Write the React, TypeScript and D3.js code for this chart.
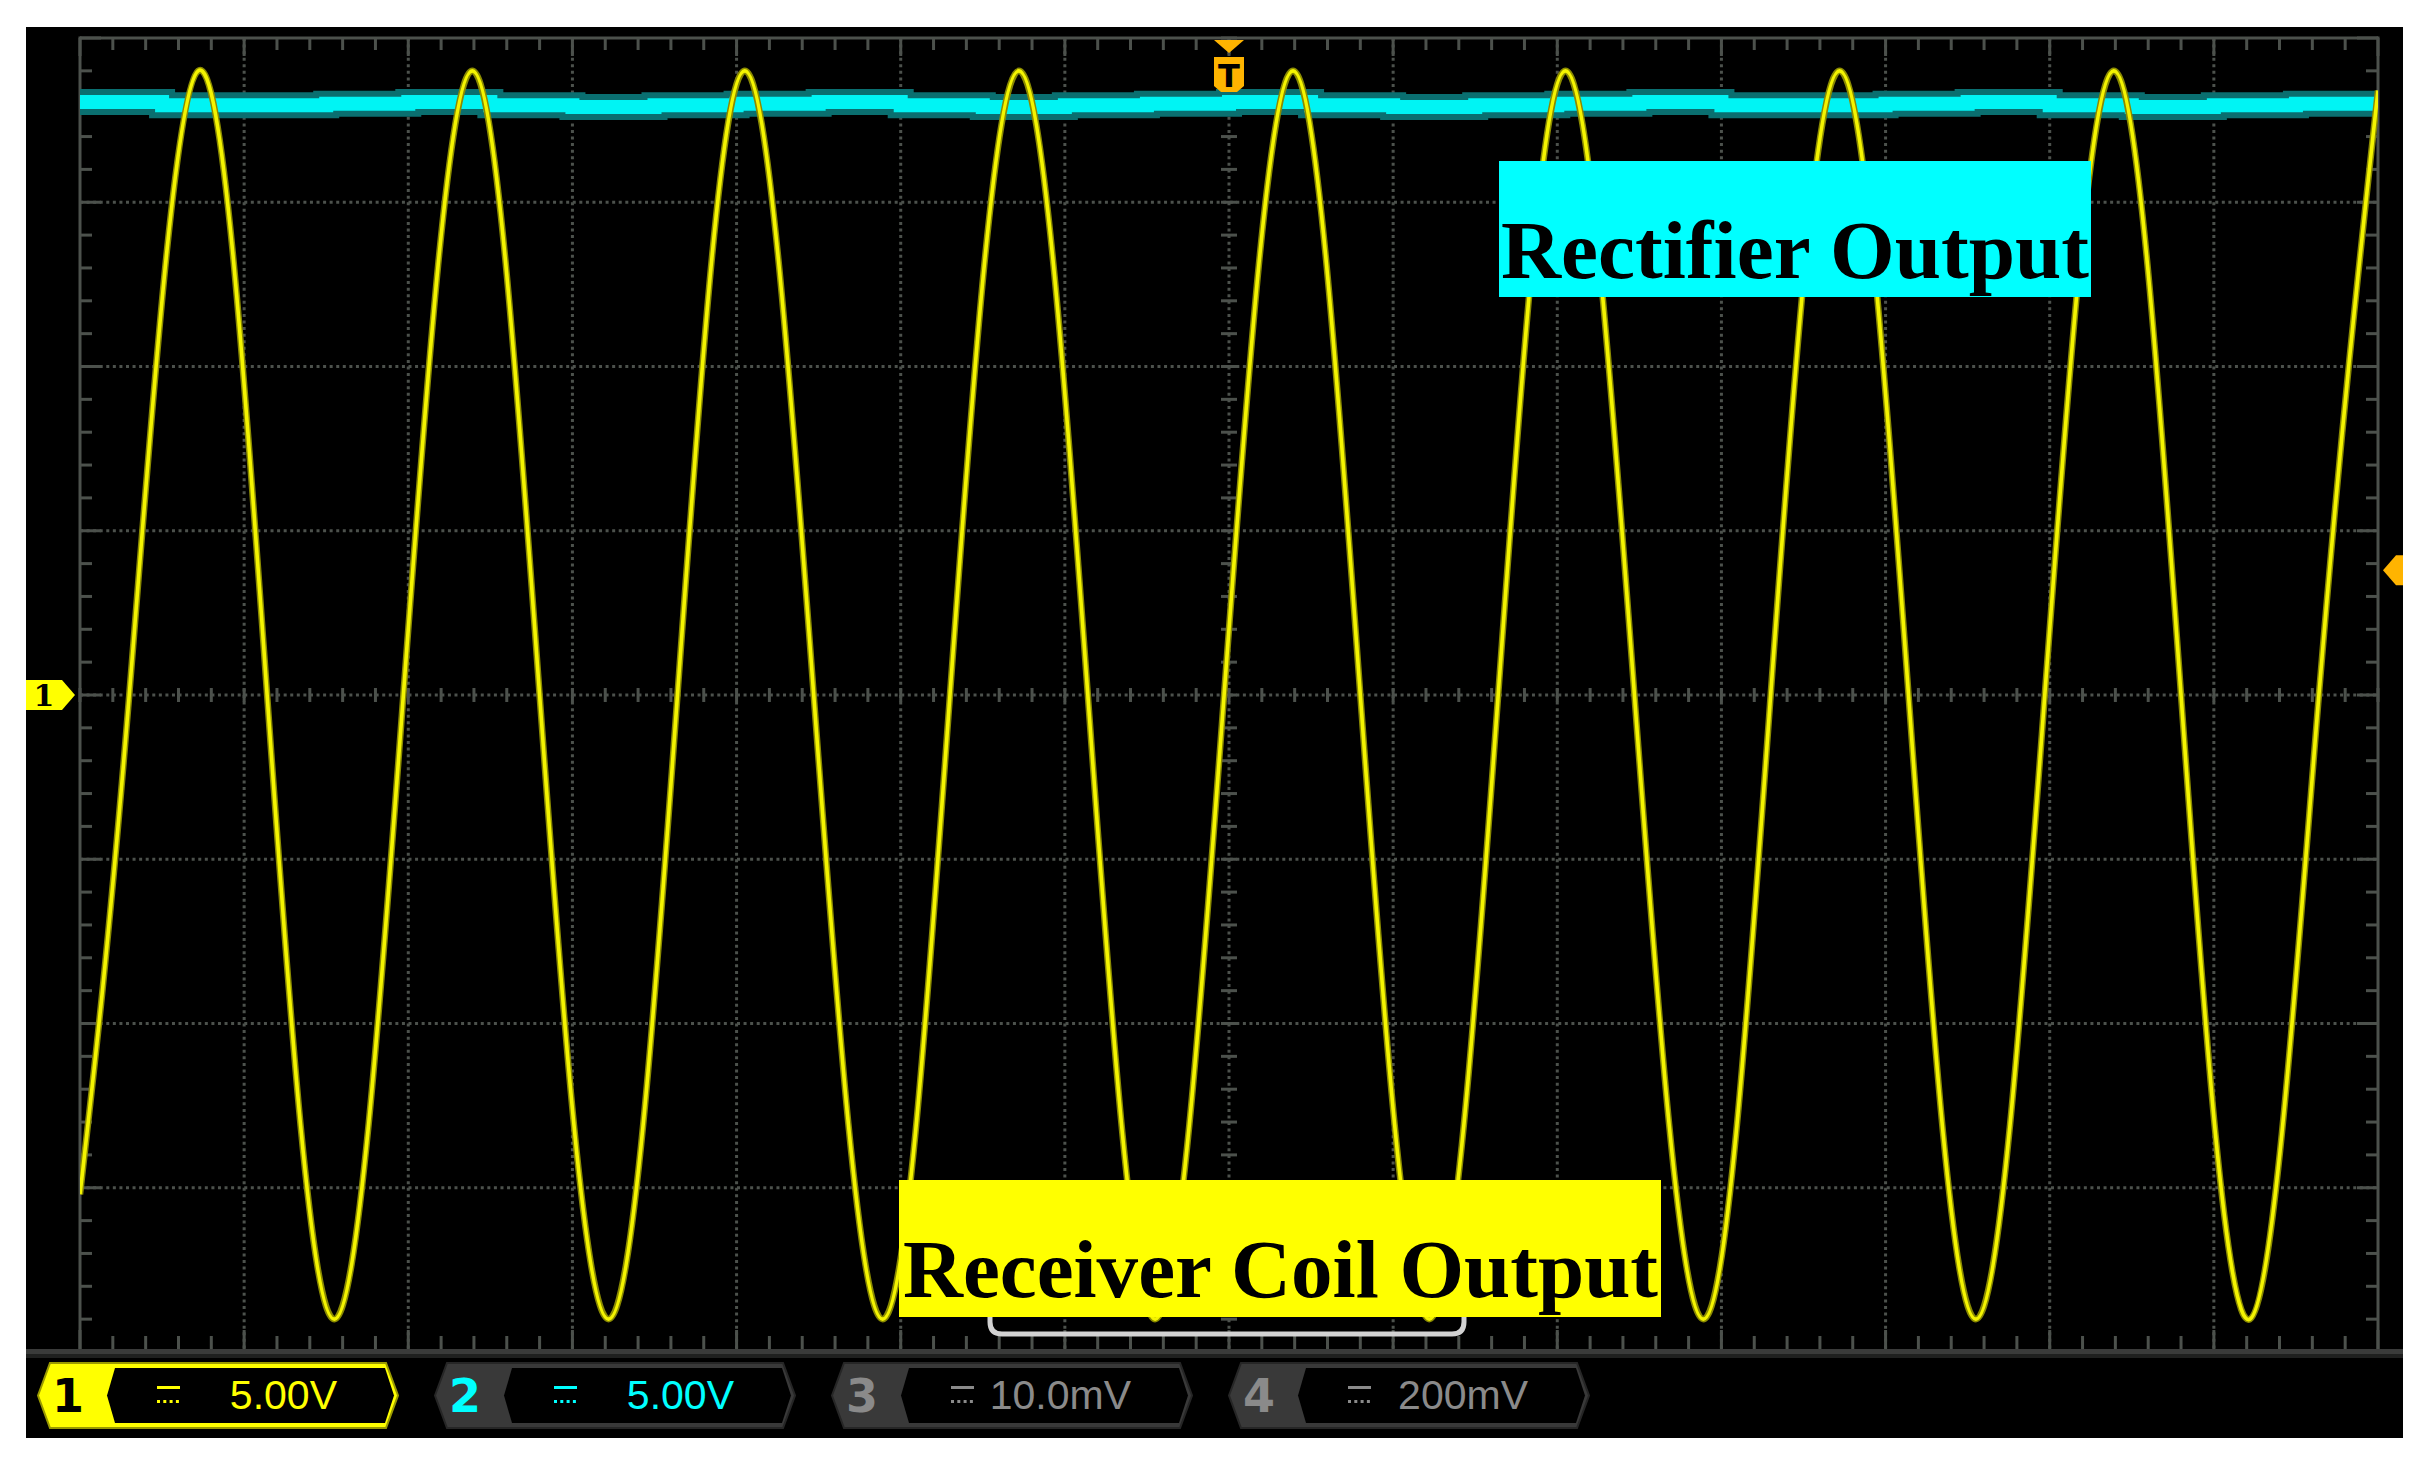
import React from "react";
import * as d3 from "d3";

// ---- data (time in divisions, volts) ----
const ch1Time = [
  -7.0, -6.7, -6.28, -5.86, -5.45, -5.03, -4.61, -4.2, -3.78, -3.36, -2.95, -2.53,
  -2.11, -1.7, -1.28, -0.86, -0.45, -0.03, 0.39, 0.8, 1.22, 1.64, 2.05, 2.47, 2.89,
  3.3, 3.72, 4.14, 4.55, 4.97, 5.39, 5.8, 6.22, 6.64, 7.0,
];
const ch1Volt = [
  -15.2, 0, 19.0, 0, -19.0, 0, 19.0, 0, -19.0, 0, 19.0, 0, -19.0, 0, 19.0, 0, -19.0,
  0, 19.0, 0, -19.0, 0, 19.0, 0, -19.0, 0, 19.0, 0, -19.0, 0, 19.0, 0, -19.0, 0, 18.4,
];

const ch2Time = [
  -7.0, -6.5, -6.0, -5.5, -5.0, -4.5, -4.0, -3.5, -3.0, -2.5, -2.0, -1.5, -1.0, -0.5,
  0.0, 0.5, 1.0, 1.5, 2.0, 2.5, 3.0, 3.5, 4.0, 4.5, 5.0, 5.5, 6.0, 6.5, 7.0,
];
const ch2Volt = [
  18.05, 17.95, 17.95, 18.0, 18.05, 17.95, 17.9, 17.95, 18.0, 18.05, 17.95, 17.9,
  17.95, 18.0, 18.05, 17.95, 17.9, 17.95, 18.0, 18.05, 17.95, 17.95, 18.0, 18.05,
  17.95, 17.9, 17.95, 18.0, 18.0,
];

const channelNames = ["1", "2", "3", "4"];
const channelScales = ["5.00V", "5.00V", "10.0mV", "200mV"];
const channelColors = ["#ffff00", "#00ffff", "#8a8a8a", "#8a8a8a"];

const hDivs = d3.range(-7, 8);
const vDivs = d3.range(-4, 5);

const W = 2434;
const H = 1471;
const GRID = { left: 80, right: 2378, top: 38, bottom: 1352 };
const GRID_COLOR = "#4c514c";

export default function App() {
  const x = d3.scaleLinear().domain([-7, 7]).range([GRID.left, GRID.right]);
  const y = d3.scaleLinear().domain([-20, 20]).range([GRID.bottom, GRID.top]);

  const minorX = d3.range(-7, 7.001, 0.2);
  const minorY = d3.range(-4, 4.001, 0.2);
  // y scale in divisions for grid
  const yDiv = d3.scaleLinear().domain([-4, 4]).range([GRID.bottom, GRID.top]);

  const ch1Line = d3
    .line<number>()
    .x((_, i) => x(ch1Time[i]))
    .y((d) => y(d))
    .curve(d3.curveNatural)(ch1Volt);

  const ch2Line = d3
    .line<number>()
    .x((_, i) => x(ch2Time[i]))
    .y((d) => y(d))
    .curve(d3.curveStepAfter)(ch2Volt);

  const cx = x(0);
  const cy = yDiv(0);

  const badgeY0 = 1363;
  const badgeY1 = 1428;
  const badgeMid = (badgeY0 + badgeY1) / 2;

  return (
    <div style={{ position: "absolute", left: 0, top: 0 }}>
      <svg width={W} height={H} style={{ display: "block", background: "#fff" }}>
        <defs>
          <clipPath id="screen">
            <rect x={GRID.left} y={GRID.top - 10} width={GRID.right - GRID.left} height={GRID.bottom - GRID.top + 10} />
          </clipPath>
        </defs>
        <rect x={26} y={27} width={2377} height={1411} fill="#000" />

        {/* dotted division lines */}
        {hDivs.slice(1, -1).map((d) => (
          <line
            key={"vx" + d}
            x1={x(d)}
            x2={x(d)}
            y1={GRID.top}
            y2={GRID.bottom - 2}
            stroke={GRID_COLOR}
            strokeWidth={3}
            strokeDasharray="3 3.57"
          />
        ))}
        {vDivs.slice(1, -1).map((d) => (
          <line
            key={"hy" + d}
            x1={GRID.left}
            x2={GRID.right}
            y1={yDiv(d)}
            y2={yDiv(d)}
            stroke={GRID_COLOR}
            strokeWidth={3}
            strokeDasharray="3 3.57"
          />
        ))}

        {/* center axis minor ticks */}
        {minorX.map((d, i) => (
          <line key={"cxt" + i} x1={x(d)} x2={x(d)} y1={cy - 7} y2={cy + 7} stroke={GRID_COLOR} strokeWidth={3} />
        ))}
        {minorY.map((d, i) => (
          <line key={"cyt" + i} x1={cx - 8} x2={cx + 8} y1={yDiv(d)} y2={yDiv(d)} stroke={GRID_COLOR} strokeWidth={3} />
        ))}

        {/* frame ticks */}
        {minorX.map((d, i) => {
          const major = Math.abs(d - Math.round(d)) < 1e-6;
          const len = major ? 18 : 12;
          return (
            <g key={"fx" + i}>
              <line x1={x(d)} x2={x(d)} y1={GRID.top} y2={GRID.top + len} stroke={GRID_COLOR} strokeWidth={3} />
              <line x1={x(d)} x2={x(d)} y1={GRID.bottom - 2} y2={GRID.bottom - 2 - len - 2} stroke={GRID_COLOR} strokeWidth={3} />
            </g>
          );
        })}
        {minorY.map((d, i) => {
          const major = Math.abs(d - Math.round(d)) < 1e-6;
          const len = major ? 21 : 12;
          return (
            <g key={"fy" + i}>
              <line x1={GRID.left} x2={GRID.left + len} y1={yDiv(d)} y2={yDiv(d)} stroke={GRID_COLOR} strokeWidth={3} />
              <line x1={GRID.right} x2={GRID.right - len} y1={yDiv(d)} y2={yDiv(d)} stroke={GRID_COLOR} strokeWidth={3} />
            </g>
          );
        })}

        {/* frame */}
        <line x1={GRID.left} x2={GRID.left} y1={GRID.top - 1.5} y2={GRID.bottom} stroke={GRID_COLOR} strokeWidth={3} />
        <line x1={GRID.right} x2={GRID.right} y1={GRID.top - 1.5} y2={GRID.bottom} stroke={GRID_COLOR} strokeWidth={3} />
        <line x1={GRID.left} x2={GRID.right} y1={GRID.top} y2={GRID.top} stroke={GRID_COLOR} strokeWidth={3} />
        <rect x={26} y={1349} width={2377} height={5} fill="#3a3b3a" />
        <rect x={26} y={1354} width={2377} height={4} fill="#1f201f" />

        <g clipPath="url(#screen)">
          {/* channel 2: rectifier output */}
          <path d={ch2Line ?? ""} fill="none" stroke="#0a6f70" strokeWidth={26} />
          <path d={ch2Line ?? ""} fill="none" stroke="#00f4f4" strokeWidth={14} />

          {/* channel 1: receiver coil */}
          <path d={ch1Line ?? ""} fill="none" stroke="#8a8a00" strokeWidth={6.5} />
          <path d={ch1Line ?? ""} fill="none" stroke="#f4f400" strokeWidth={3.6} />
        </g>

        {/* position bracket under the coil label */}
        <path
          d="M990,1290 V1322 Q990,1334 1002,1334 H1452 Q1464,1334 1464,1322 V1290"
          fill="none"
          stroke="#d2d2d2"
          strokeWidth={5}
        />

        {/* trigger marker */}
        <path d={`M${cx - 15},40 H${cx + 15} L${cx},53 Z`} fill="#ffb400" />
        <path
          d={`M${cx - 15},57 H${cx + 15} V86 L${cx + 8},92 H${cx - 8} L${cx - 15},86 Z`}
          fill="#ffb400"
        />
        <text x={cx} y={87} textAnchor="middle" fontFamily="DejaVu Sans" fontWeight="bold" fontSize={32} fill="#000">
          T
        </text>

        {/* channel 1 ground marker */}
        <path d={`M26,${cy - 15} H62 L75,${cy} L62,${cy + 15} H26 Z`} fill="#ffff00" />
        <text x={44} y={cy + 11} textAnchor="middle" fontFamily="DejaVu Serif" fontWeight="bold" fontSize={30} fill="#000">
          1
        </text>

        {/* trigger level marker */}
        <path d={`M2403,${y(3.8) - 15} V${y(3.8) + 15} H2396 L2383,${y(3.8)} L2396,${y(3.8) - 15} Z`} fill="#ffb400" />

        {/* annotation labels */}
        <rect x={1499} y={161} width={592} height={136} fill="#00ffff" />
        <text
          x={1501}
          y={278}
          fontFamily="'Liberation Serif', 'Times New Roman', serif"
          fontWeight="bold"
          fontSize={83}
          fill="#000"
          textLength={588}
          lengthAdjust="spacingAndGlyphs"
        >
          Rectifier Output
        </text>
        <rect x={899} y={1180} width={762} height={137} fill="#ffff00" />
        <text
          x={903}
          y={1297}
          fontFamily="'Liberation Serif', 'Times New Roman', serif"
          fontWeight="bold"
          fontSize={83}
          fill="#000"
          textLength={755}
          lengthAdjust="spacingAndGlyphs"
        >
          Receiver Coil Output
        </text>

        {/* channel badges */}
        {channelNames.map((name, i) => {
          const x0 = 38 + i * 397;
          const active = i === 0;
          const outer = active ? "#ffff00" : "#393939";
          const col = channelColors[i];
          return (
            <g key={"b" + name}>
              <path
                d={`M${x0},${badgeMid} L${x0 + 12},${badgeY0} H${x0 + 348} L${x0 + 360},${badgeMid} L${x0 + 348},${badgeY1} H${x0 + 12} Z`}
                fill={outer}
                stroke={active ? "#9a9a00" : "#262626"}
                strokeWidth={2}
              />
              <path
                d={`M${x0 + 69},${badgeMid} L${x0 + 77},${badgeY0 + 5} H${x0 + 347} L${x0 + 356},${badgeMid} L${x0 + 347},${badgeY1 - 5} H${x0 + 77} Z`}
                fill="#000"
              />
              <text
                x={x0 + 30}
                y={1412}
                textAnchor="middle"
                fontFamily="'DejaVu Sans'"
                fontWeight="bold"
                fontSize={46}
                fill={active ? "#000" : col}
              >
                {name}
              </text>
              <rect x={x0 + 119} y={1386} width={23} height={3} fill={col} />
              {[0, 1, 2, 3].map((k) => (
                <rect key={k} x={x0 + 119 + k * 6.3} y={1400} width={3} height={3} fill={col} />
              ))}
              <text
                x={x0 + 299}
                y={1409}
                textAnchor="end"
                fontFamily="'Liberation Sans', Arial, sans-serif"
                fontSize={41}
                fill={col}
              >
                {channelScales[i]}
              </text>
            </g>
          );
        })}
      </svg>
    </div>
  );
}
